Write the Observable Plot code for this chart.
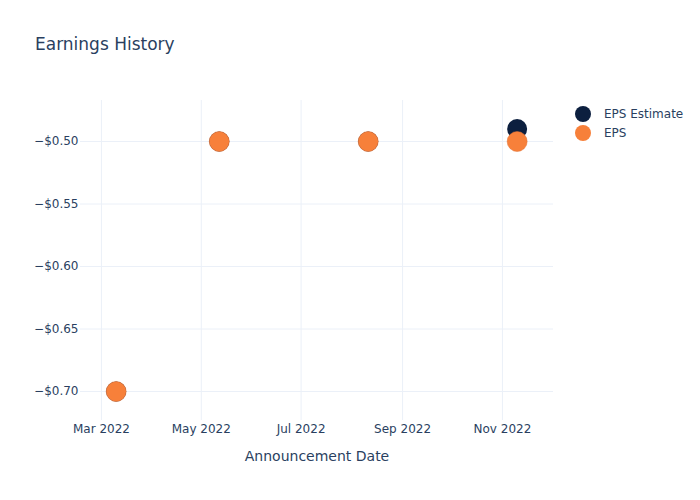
<!DOCTYPE html>
<html>
<head>
<meta charset="utf-8">
<script src="https://cdn.jsdelivr.net/npm/d3@7"></script>
<script src="https://cdn.jsdelivr.net/npm/@observablehq/plot@0.6"></script>
<style>
  html, body { margin: 0; padding: 0; background: #fff; }
  #wrap { position: relative; width: 700px; height: 500px; font-family: "DejaVu Sans", sans-serif; color: #2a3f5f; }
  #title { position: absolute; left: 35px; top: 34px; font-size: 17px; line-height: 20px; white-space: nowrap; }
  .leg { position: absolute; left: 575px; font-size: 12px; line-height: 16px; white-space: nowrap; display: flex; align-items: center; }
  .leg span.dot { display: inline-block; width: 16px; height: 16px; border-radius: 50%; margin-right: 13px; }
  #chart { position: absolute; left: 0; top: 0; }
</style>
</head>
<body>
<div id="wrap">
  <div id="chart"></div>
  <div id="title">Earnings History</div>
  <div class="leg" style="top:106px"><span class="dot" style="background:#0c1f3f"></span>EPS Estimate</div>
  <div class="leg" style="top:125px"><span class="dot" style="background:#f7803a"></span>EPS</div>
</div>
<script>
const dates = ["2022-03-10", "2022-05-12", "2022-08-11", "2022-11-10"];
const epsEstimate = [-0.70, -0.50, -0.50, -0.49];
const eps = [-0.70, -0.50, -0.50, -0.50];
const xTicks = ["2022-03-01", "2022-05-01", "2022-07-01", "2022-09-01", "2022-11-01"];
const yTicks = [-0.50, -0.55, -0.60, -0.65, -0.70];

const parse = d3.utcParse("%Y-%m-%d");
const estData = dates.map((d, i) => ({date: parse(d), value: epsEstimate[i]}));
const epsData = dates.map((d, i) => ({date: parse(d), value: eps[i]}));
const fmtMonth = d3.utcFormat("%b %Y");

const chart = Plot.plot({
  width: 700,
  height: 500,
  marginTop: 100,
  marginBottom: 80,
  marginLeft: 80,
  marginRight: 147,
  style: {fontFamily: "DejaVu Sans, sans-serif", fontSize: "12px", color: "#2a3f5f", background: "#fff"},
  x: {type: "utc", domain: [new Date(Date.UTC(2022, 1, 16, 5)), new Date(Date.UTC(2022, 11, 2, 5))]},
  y: {domain: [-0.7232, -0.4672]},
  marks: [
    Plot.gridX(xTicks.map(parse), {stroke: "#ebf0f8", strokeOpacity: 1, strokeWidth: 1}),
    Plot.gridY(yTicks, {stroke: "#ebf0f8", strokeOpacity: 1, strokeWidth: 1}),
    Plot.axisX(xTicks.map(parse), {tickSize: 0, tickPadding: 4, tickFormat: fmtMonth, fill: "#2a3f5f", fontSize: 12,
      label: "Announcement Date", labelAnchor: "center", labelArrow: "none", labelOffset: 40}),
    Plot.axisY(yTicks, {tickSize: 0, tickPadding: 2, tickFormat: d => "\u2212$" + Math.abs(d).toFixed(2), fill: "#2a3f5f", fontSize: 12, label: null}),
    Plot.dot(estData, {x: "date", y: "value", r: 10, fill: "#0c1f3f"}),
    Plot.dot(epsData, {x: "date", y: "value", r: 10, fill: "#f7803a", stroke: "#e07035", strokeWidth: 0.5})
  ]
});
chart.querySelectorAll("g[aria-label='x-axis label'] text, g[aria-label='x-axis label']").forEach(el => { el.setAttribute("font-size", "14"); });
document.getElementById("chart").appendChild(chart);
</script>
</body>
</html>
